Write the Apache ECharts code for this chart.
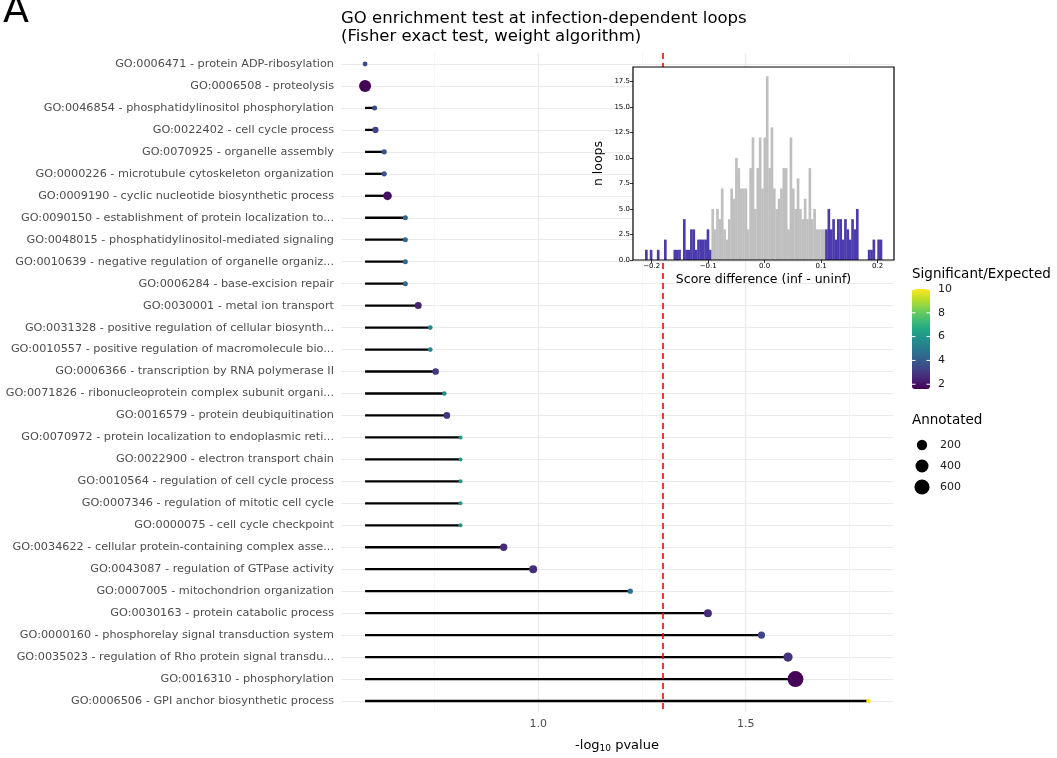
<!DOCTYPE html>
<html>
<head>
<meta charset="utf-8">
<title>GO enrichment test at infection-dependent loops</title>
<script src="https://cdn.jsdelivr.net/npm/echarts@6/dist/echarts.min.js"></script>
<style>
  html, body { margin: 0; padding: 0; background: #fff; }
  #chart { width: 1057px; height: 758px; }
</style>
</head>
<body>
<div id="chart"></div>
<script>
// GO terms, top to bottom
const goTerms = [
  'GO:0006471 - protein ADP-ribosylation',
  'GO:0006508 - proteolysis',
  'GO:0046854 - phosphatidylinositol phosphorylation',
  'GO:0022402 - cell cycle process',
  'GO:0070925 - organelle assembly',
  'GO:0000226 - microtubule cytoskeleton organization',
  'GO:0009190 - cyclic nucleotide biosynthetic process',
  'GO:0090150 - establishment of protein localization to...',
  'GO:0048015 - phosphatidylinositol-mediated signaling',
  'GO:0010639 - negative regulation of organelle organiz...',
  'GO:0006284 - base-excision repair',
  'GO:0030001 - metal ion transport',
  'GO:0031328 - positive regulation of cellular biosynth...',
  'GO:0010557 - positive regulation of macromolecule bio...',
  'GO:0006366 - transcription by RNA polymerase II',
  'GO:0071826 - ribonucleoprotein complex subunit organi...',
  'GO:0016579 - protein deubiquitination',
  'GO:0070972 - protein localization to endoplasmic reti...',
  'GO:0022900 - electron transport chain',
  'GO:0010564 - regulation of cell cycle process',
  'GO:0007346 - regulation of mitotic cell cycle',
  'GO:0000075 - cell cycle checkpoint',
  'GO:0034622 - cellular protein-containing complex asse...',
  'GO:0043087 - regulation of GTPase activity',
  'GO:0007005 - mitochondrion organization',
  'GO:0030163 - protein catabolic process',
  'GO:0000160 - phosphorelay signal transduction system',
  'GO:0035023 - regulation of Rho protein signal transdu...',
  'GO:0016310 - phosphorylation',
  'GO:0006506 - GPI anchor biosynthetic process'
]

// -log10 pvalue
const negLogP = [
  0.583, 0.583, 0.606, 0.608, 0.629, 0.629, 0.637, 0.680, 0.680, 0.680,
  0.680, 0.711, 0.740, 0.740, 0.753, 0.774, 0.780, 0.813, 0.813, 0.813,
  0.813, 0.813, 0.917, 0.988, 1.222, 1.409, 1.538, 1.602, 1.620, 1.796
]

// Significant / Expected
const sigRatio = [
  3.45, 1.62, 3.45, 3.3, 3.7, 3.7, 1.95, 4.4, 4.4, 4.4,
  4.4, 2.45, 5.5, 5.5, 3.0, 5.6, 2.85, 6.0, 6.0, 6.0,
  6.0, 6.0, 2.6, 2.7, 4.7, 2.7, 3.3, 2.8, 1.7, 10
]

// Annotated genes
const annotated = [
  14, 317, 15, 35, 18, 18, 116, 15, 15, 15,
  15, 53, 13, 13, 45, 11, 45, 10, 10, 10,
  10, 10, 62, 87, 18, 87, 62, 145, 700, 12
]

const xMajorTicks = [1.0, 1.5]
const xMinorTicks = [0.75, 1.25, 1.75]
const pCutoff = 1.301 // -log10(0.05)

const colorBreaks = [2, 4, 6, 8, 10]
const sizeBreaks = [200, 400, 600]

// inset histogram of score differences
const histStart = -0.2117
const histBinWidth = 0.004195
const histCounts = [
  1, 0, 1, 0, 0, 1, 0, 0, 2, 0,
  0, 0, 1, 1, 1, 0, 4, 1, 1, 3,
  3, 1, 2, 2, 2, 2, 3, 1, 5, 3,
  5, 4, 7, 3, 2, 4, 7, 6, 10, 9,
  7, 7, 7, 3, 9, 12, 5, 9, 12, 7,
  12, 18, 9, 13, 7, 5, 6, 7, 9, 9,
  3, 12, 7, 5, 8, 5, 4, 6, 4, 9,
  4, 5, 3, 3, 3, 3, 3, 5, 3, 4,
  2, 4, 4, 2, 4, 3, 2, 4, 3, 5,
  0, 0, 0, 0, 1, 1, 2, 0, 2, 2
]
const histLeftTailEnd = 28    // bins below this index are in the left tail
const histRightTailStart = 76 // bins from this index are in the right tail
const histXTicks = [-0.2, -0.1, 0, 0.1, 0.2]
const histYTicks = [0, 2.5, 5, 7.5, 10, 12.5, 15, 17.5]

// layout
const FONT = 'DejaVu Sans'
const main = { left: 341, top: 53, width: 552, height: 659 }
const inset = { left: 633, top: 67, width: 261, height: 193 }
const cbar = { left: 912, top: 289, width: 18, height: 100, min: 1.6, max: 10 }
const viridis = ['#440154', '#482475', '#414487', '#355f8d', '#2a788e', '#21918c',
  '#22a884', '#44bf70', '#7ad151', '#bddf26', '#fde725']

const sizeOf = a => 4 + 12 * Math.sqrt(Math.max(0, (a - 10) / 690))

const segStart = Math.min(...negLogP)
const segData = negLogP.map((v, i) => [segStart, v, i])
const pointData = negLogP.map((v, i) => [v, i, sigRatio[i], annotated[i]])
const histData = histCounts.map((c, i) => [
  histStart + i * histBinWidth,
  histStart + (i + 1) * histBinWidth,
  c,
  (i < histLeftTailEnd || i >= histRightTailStart) ? 1 : 0
])

// legend graphics
const legendGraphics = []
legendGraphics.push({
  type: 'text', left: cbar.left, top: 267,
  style: { text: 'Significant/Expected', fontFamily: FONT, fontSize: 13.5, fill: '#000' }
})
colorBreaks.forEach(b => {
  const y = cbar.top + (cbar.max - b) / (cbar.max - cbar.min) * cbar.height
  legendGraphics.push({
    type: 'text', x: cbar.left + cbar.width + 8, y: y,
    style: { text: String(b), fontFamily: FONT, fontSize: 11, fill: '#1a1a1a', verticalAlign: 'middle' }
  })
  legendGraphics.push({
    type: 'line', z: 100,
    shape: { x1: cbar.left, y1: y, x2: cbar.left + 3.5, y2: y },
    style: { stroke: '#fff', lineWidth: 1 }
  })
  legendGraphics.push({
    type: 'line', z: 100,
    shape: { x1: cbar.left + cbar.width - 3.5, y1: y, x2: cbar.left + cbar.width, y2: y },
    style: { stroke: '#fff', lineWidth: 1 }
  })
})
legendGraphics.push({
  type: 'text', left: cbar.left, top: 413,
  style: { text: 'Annotated', fontFamily: FONT, fontSize: 13.5, fill: '#000' }
})
sizeBreaks.forEach((b, i) => {
  const cy = 445 + i * 21
  legendGraphics.push({
    type: 'circle', shape: { cx: 922, cy: cy, r: sizeOf(b) / 2 }, style: { fill: '#000' }
  })
  legendGraphics.push({
    type: 'text', x: 940, y: cy,
    style: { text: String(b), fontFamily: FONT, fontSize: 11, fill: '#1a1a1a', verticalAlign: 'middle' }
  })
})

const chart = echarts.init(document.getElementById('chart'))

const option = {
  backgroundColor: '#fff',
  animation: false,
  textStyle: { fontFamily: FONT },
  title: {
    text: 'GO enrichment test at infection-dependent loops\n(Fisher exact test, weight algorithm)',
    left: 336,
    top: 5,
    textStyle: { fontFamily: FONT, fontSize: 16.5, fontWeight: 'normal', color: '#000', lineHeight: 18 }
  },
  grid: [
    { left: main.left, top: main.top, width: main.width, height: main.height },
    { left: inset.left, top: inset.top, width: inset.width, height: inset.height }
  ],
  xAxis: [
    {
      type: 'value', gridIndex: 0, min: 0.525, max: 1.855,
      name: '-log{sub|10} pvalue',
      nameLocation: 'middle',
      nameGap: 26,
      nameTextStyle: {
        fontFamily: FONT, fontSize: 13, color: '#000',
        rich: { sub: { fontFamily: FONT, fontSize: 9, padding: [6, 0, 0, 0], verticalAlign: 'bottom' } }
      },
      axisLine: { show: false, onZero: false },
      axisTick: { show: false, customValues: xMajorTicks },
      axisLabel: {
        customValues: xMajorTicks, color: '#4d4d4d', fontSize: 11, margin: 7,
        formatter: v => v.toFixed(1)
      },
      splitLine: { show: true, lineStyle: { color: '#ebebeb', width: 1.2 } }
    },
    {
      type: 'value', gridIndex: 0, min: 0.525, max: 1.855,
      axisLine: { show: false, onZero: false },
      axisTick: { show: false, customValues: xMinorTicks },
      axisLabel: { show: false, customValues: xMinorTicks },
      splitLine: { show: true, lineStyle: { color: '#f3f3f3', width: 0.8 } }
    },
    {
      type: 'value', gridIndex: 1, min: -0.233, max: 0.229, z: 12,
      name: 'Score difference (inf - uninf)',
      nameLocation: 'middle',
      nameGap: 13,
      nameTextStyle: { fontFamily: FONT, fontSize: 12.5, color: '#000' },
      axisLine: { show: false, onZero: false },
      axisTick: { show: true, length: 3, lineStyle: { color: '#000', width: 0.8 }, customValues: histXTicks },
      axisLabel: {
        customValues: histXTicks, color: '#000', fontSize: 7, margin: 3,
        formatter: v => (v < 0 ? '\u2212' : '') + Math.abs(v).toFixed(1)
      },
      splitLine: { show: false }
    }
  ],
  yAxis: [
    {
      type: 'category', gridIndex: 0, data: goTerms, inverse: true,
      axisLine: { show: false },
      axisTick: { show: false },
      axisLabel: { interval: 0, color: '#4d4d4d', fontSize: 11.25, margin: 7 },
      splitLine: { show: true, interval: 0, alignWithLabel: true, lineStyle: { color: '#ebebeb', width: 1.2 } }
    },
    {
      type: 'value', gridIndex: 1, min: 0, max: 18.9, z: 12,
      name: 'n loops',
      nameLocation: 'middle',
      nameGap: 28,
      nameTextStyle: { fontFamily: FONT, fontSize: 12.5, color: '#000' },
      axisLine: { show: false, onZero: false },
      axisTick: { show: true, length: 3, lineStyle: { color: '#000', width: 0.8 }, customValues: histYTicks },
      axisLabel: {
        customValues: histYTicks, color: '#000', fontSize: 7, margin: 3,
        formatter: v => v.toFixed(1)
      },
      splitLine: { show: false }
    }
  ],
  visualMap: {
    type: 'continuous',
    seriesIndex: 1,
    dimension: 2,
    min: cbar.min,
    max: cbar.max,
    left: cbar.left,
    top: cbar.top,
    itemWidth: cbar.width,
    itemHeight: cbar.height,
    padding: 0,
    calculable: false,
    text: null,
    inRange: { color: viridis }
  },
  graphic: [
    {
      type: 'text', left: 3, top: -7,
      style: { text: 'A', fontFamily: FONT, fontSize: 38, fill: '#000' }
    },
    {
      type: 'rect', z: 10, silent: true,
      shape: { x: inset.left, y: inset.top, width: inset.width, height: inset.height },
      style: { fill: '#fff' }
    },
    {
      type: 'rect', z: 20, silent: true,
      shape: { x: inset.left, y: inset.top, width: inset.width, height: inset.height },
      style: { fill: 'none', stroke: '#000', lineWidth: 1.2 }
    },
    ...legendGraphics
  ],
  series: [
    {
      // lollipop sticks
      type: 'custom',
      xAxisIndex: 0, yAxisIndex: 0,
      data: segData,
      encode: { x: [0, 1], y: 2 },
      z: 2,
      renderItem: (params, api) => {
        const a = api.coord([api.value(0), api.value(2)])
        const b = api.coord([api.value(1), api.value(2)])
        return {
          type: 'line',
          shape: { x1: a[0], y1: a[1], x2: b[0], y2: b[1] },
          style: { stroke: '#000', lineWidth: 2.3 }
        }
      }
    },
    {
      type: 'scatter',
      xAxisIndex: 0, yAxisIndex: 0,
      data: pointData,
      encode: { x: 0, y: 1 },
      symbolSize: val => sizeOf(val[3]),
      itemStyle: { opacity: 1 },
      z: 3
    },
    {
      // significance cutoff
      type: 'line',
      xAxisIndex: 0, yAxisIndex: 0,
      data: [],
      z: 4,
      markLine: {
        silent: true,
        symbol: 'none',
        label: { show: false },
        lineStyle: { color: '#ff0000', type: [6, 4], width: 1.6 },
        data: [{ xAxis: pCutoff }]
      }
    },
    {
      // inset histogram
      type: 'custom',
      xAxisIndex: 2, yAxisIndex: 1,
      data: histData,
      encode: { x: [0, 1], y: 2 },
      z: 12,
      renderItem: (params, api) => {
        const p0 = api.coord([api.value(0), api.value(2)])
        const p1 = api.coord([api.value(1), 0])
        return {
          type: 'rect',
          shape: { x: p0[0], y: p0[1], width: p1[0] - p0[0] + 0.3, height: p1[1] - p0[1] },
          style: { fill: api.value(3) ? '#4b3bae' : '#bfbfbf' }
        }
      }
    }
  ]
}

chart.setOption(option)
</script>
</body>
</html>
